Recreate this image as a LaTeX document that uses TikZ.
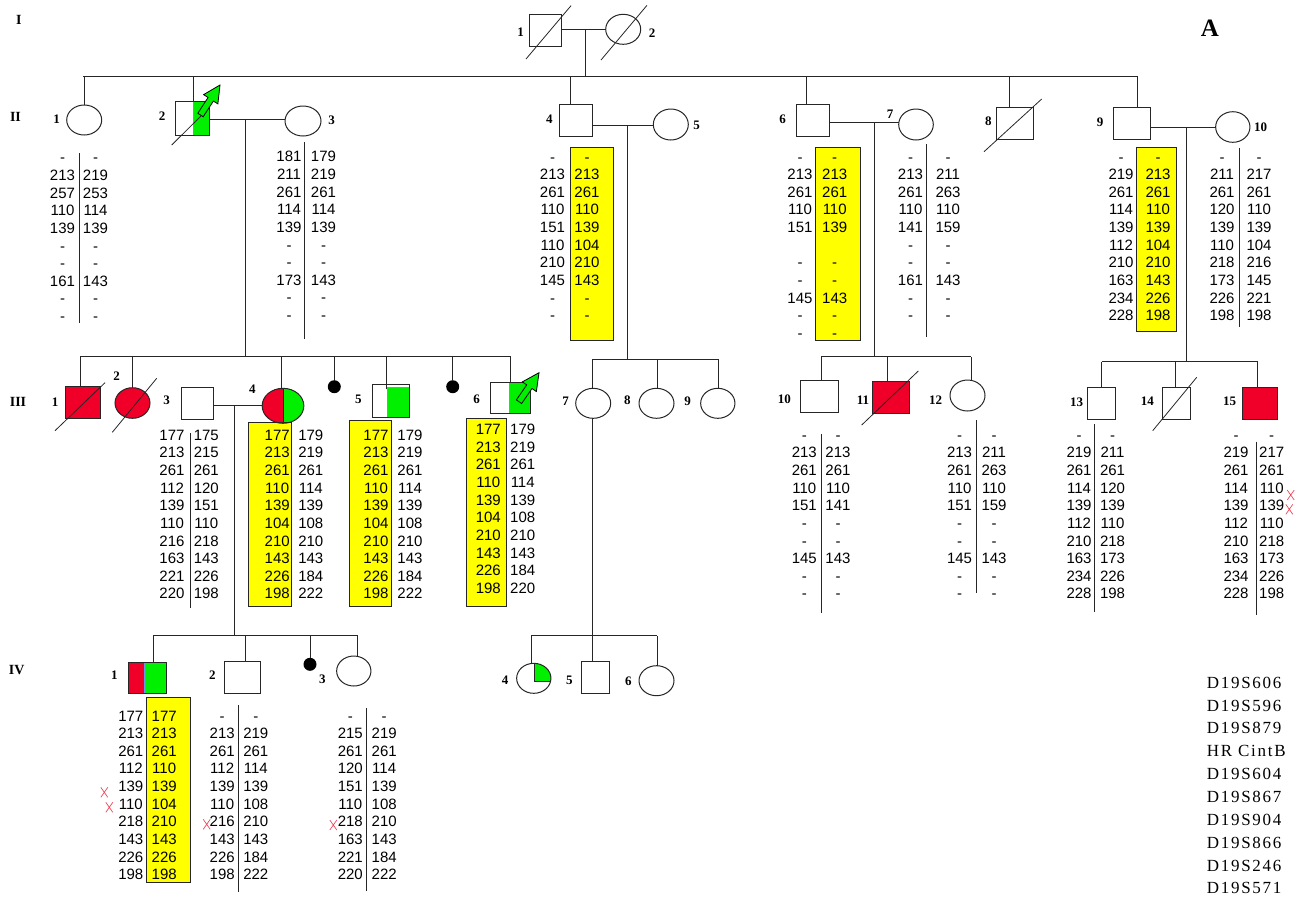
\documentclass[tikz,border=0pt]{standalone}
\usepackage{fontspec}
\setmainfont{Liberation Serif}
\newfontfamily\numfont{Liberation Sans}
\newfontfamily\markerfont[LetterSpace=10]{Liberation Serif}
\usetikzlibrary{shapes.geometric,calc}
\definecolor{pred}{RGB}{240,0,40}
\definecolor{pgreen}{RGB}{0,240,0}
\definecolor{pyellow}{RGB}{255,255,0}
\definecolor{pblue}{RGB}{110,150,230}
\definecolor{xred}{RGB}{240,70,90}
\tikzset{
  ln/.style={line width=1pt, draw=black!85},
  slash/.style={line width=0.8pt, draw=black!85},
  male/.style={rectangle, draw=black!85, line width=1pt, inner sep=0pt, outer sep=0pt},
  female/.style={ellipse, draw=black!85, line width=1pt, inner sep=0pt, outer sep=0pt},
  dotnode/.style={circle, fill=black, inner sep=0pt, minimum size=13pt},
  num/.style={font=\numfont\fontsize{15}{15}\selectfont, inner sep=0pt, text height=10.7pt, text depth=0pt},
  lab/.style={font=\fontsize{13}{13}\selectfont\bfseries, inner sep=0pt},
  gen/.style={font=\fontsize{14}{14}\selectfont\bfseries, inner sep=0pt},
  mk/.style={font=\markerfont\fontsize{17}{17}\selectfont, inner sep=0pt, anchor=west, text height=11pt, text depth=0pt},
  ybox/.style={fill=pyellow, draw=black!85, line width=0.9pt},
  gfill/.style={fill=pgreen, draw=pblue, line width=0.5pt},
}
\newcommand\hap[6]{%
  \foreach \v [count=\k from 0] in {#5} {\node[num] (#1l\k) at (#2,#4+\k*17.62) {\v};}
  \foreach \v [count=\k from 0] in {#6} {\node[num] (#1r\k) at (#3,#4+\k*17.62) {\v};}
}
\newcommand\xm[2]{\draw[xred, line width=0.7pt] (#1-3.5,#2-5) -- (#1+3.5,#2+5) (#1-3.5,#2+5) -- (#1+3.5,#2-5);}
\newcommand\garrow[2]{%
  \path ($(#2)!17pt!(#1)$) coordinate (gab);
  \filldraw[fill=pgreen, draw=black, line width=0.8pt]
    ($(#1)!3.2pt!90:(#2)$) -- ($(gab)!3.2pt!90:(#2)$) -- ($(gab)!8.5pt!90:(#2)$) -- (#2)
    -- ($(gab)!8.5pt!-90:(#2)$) -- ($(gab)!3.2pt!-90:(#2)$) -- ($(#1)!3.2pt!-90:(#2)$) -- cycle;
}
\begin{document}
\begin{tikzpicture}[x=1pt,y=-1pt]
\useasboundingbox (0,0) rectangle (1311,906);
% ---------- fills drawn first
\filldraw[gfill] (193,101) rectangle (209,135);
\begin{scope}
  \clip (283,380) rectangle (310,430);
  \fill[pgreen] (283,405.8) ellipse [x radius=20.85, y radius=17.5];
\end{scope}
\begin{scope}
  \clip (250,380) rectangle (283,430);
  \fill[pred] (283,405.8) ellipse [x radius=20.85, y radius=17.5];
\end{scope}
\filldraw[gfill] (387.3,387.7) rectangle (409,417.3);
\filldraw[gfill] (509.3,382.7) rectangle (530.7,413.3);
\fill[pred] (128.3,662.3) rectangle (144.3,693.3);
\filldraw[gfill] (144.3,662.3) rectangle (166.7,693.3);
\begin{scope}
  \clip (534,681) rectangle (560,660);
  \fill[pgreen] (533.8,678.3) ellipse [x radius=17.15, y radius=15];
\end{scope}
\draw[ln] (534,663.5) -- (534,681) -- (551,681);
% ---------- yellow boxes
\filldraw[ybox] (570.7,147.7) rectangle (613.3,340.5);
\filldraw[ybox] (815,147.7) rectangle (860,340.7);
\filldraw[ybox] (1136.7,147.7) rectangle (1176,331);
\filldraw[ybox] (248.3,422.7) rectangle (291.7,606.7);
\filldraw[ybox] (349,420) rectangle (391.7,606.7);
\filldraw[ybox] (466,418.3) rectangle (506,606.7);
\filldraw[ybox] (146.7,697.3) rectangle (190.7,882.3);
% ---------- individuals
\node[male, minimum width=32.4pt, minimum height=32.4pt] (i11) at (545.5,30.5) {};
\node[female, minimum width=35pt, minimum height=30pt] (i12) at (623.2,29.3) {};
\node[female, minimum width=35pt, minimum height=30pt] (i21) at (84.2,120) {};
\node[male, minimum width=34pt, minimum height=34pt] (i22) at (192,118) {};
\node[female, minimum width=36pt, minimum height=30pt] (i23) at (303,121) {};
\node[male, minimum width=33pt, minimum height=32.4pt] (i24) at (575.8,120.5) {};
\node[female, minimum width=35pt, minimum height=31pt] (i25) at (670.8,124.5) {};
\node[male, minimum width=33.3pt, minimum height=32.4pt] (i26) at (813.3,120.5) {};
\node[female, minimum width=34.6pt, minimum height=31pt] (i27) at (916,124.5) {};
\node[male, minimum width=37.3pt, minimum height=32.3pt] (i28) at (1014.7,123.8) {};
\node[male, minimum width=36.7pt, minimum height=32.3pt] (i29) at (1131.7,123.8) {};
\node[female, minimum width=34.3pt, minimum height=30.6pt] (i210) at (1232.8,127) {};
\node[male, fill=pred, minimum width=35.3pt, minimum height=32.3pt] (i31) at (83.3,402.2) {};
\node[female, fill=pred, minimum width=35pt, minimum height=30.6pt] (i32) at (132.5,403) {};
\node[male, minimum width=32.3pt, minimum height=32.3pt] (i33) at (197.2,403.8) {};
\node[female, minimum width=41.7pt, minimum height=35pt] (i34) at (283,405.8) {};
\draw[ln] (i34.north) -- (i34.south);
\node[dotnode] (d1) at (334.3,386.7) {};
\node[male, minimum width=36.7pt, minimum height=33pt] (i35) at (390.7,400.8) {};
\node[dotnode] (d2) at (452.7,386.7) {};
\node[male, minimum width=40pt, minimum height=30.6pt] (i36) at (510.7,398) {};
\node[female, minimum width=35pt, minimum height=30pt] (i37) at (593.2,403.3) {};
\node[female, minimum width=35pt, minimum height=30pt] (i38) at (656.5,403.3) {};
\node[female, minimum width=34.3pt, minimum height=30pt] (i39) at (717.8,403.3) {};
\node[male, minimum width=37.6pt, minimum height=32pt] (i310) at (819.5,396) {};
\node[male, fill=pred, minimum width=37.3pt, minimum height=32.3pt] (i311) at (891.3,397.2) {};
\node[female, minimum width=35pt, minimum height=31pt] (i312) at (967.5,395.5) {};
\node[male, minimum width=27.7pt, minimum height=32.3pt] (i313) at (1101.2,403.8) {};
\node[male, minimum width=28pt, minimum height=32.3pt] (i314) at (1176.7,403.8) {};
\node[male, fill=pred, minimum width=34.6pt, minimum height=32.3pt] (i315) at (1260,403.8) {};
\node[male, minimum width=38.4pt, minimum height=31pt] (i41) at (147.5,677.8) {};
\node[male, minimum width=35.7pt, minimum height=32.3pt] (i42) at (242.2,677.8) {};
\node[dotnode] (d3) at (310,664.3) {};
\node[female, minimum width=34.3pt, minimum height=30pt] (i43) at (353.8,671) {};
\node[female, minimum width=34.3pt, minimum height=30pt] (i44) at (533.8,678.3) {};
\node[male, minimum width=27.6pt, minimum height=32.3pt] (i45) at (595.5,677.8) {};
\node[female, minimum width=35pt, minimum height=30pt] (i46) at (656.5,680.7) {};
% ---------- coordinates
\coordinate (m12) at (585,29.6);
\coordinate (sII) at (83.3,76);
\coordinate (sII2) at (1137.7,76);
\coordinate (m23) at (245,119);
\coordinate (m45) at (627.3,125.7);
\coordinate (m67) at (874,122.7);
\coordinate (m910) at (1186.7,127.7);
\coordinate (sA) at (80,356.7);
\coordinate (sA2) at (511,356.7);
\coordinate (sB) at (592.3,359);
\coordinate (sB2) at (718.3,359);
\coordinate (sC) at (821,356.7);
\coordinate (sC2) at (971,356.7);
\coordinate (sD) at (1101.7,361.7);
\coordinate (sD2) at (1257.7,361.7);
\coordinate (m34) at (234.3,405);
\coordinate (sE) at (153.3,635.7);
\coordinate (sE2) at (357.7,635.7);
\coordinate (sF) at (531,635.7);
\coordinate (sF2) at (657.3,635.7);
% ---------- connectors
\draw[ln] (i11.east |- m12) -- (i12.west |- m12);
\draw[ln] (m12) -- (m12 |- sII);
\draw[ln] (sII) -- (sII2);
\draw[ln] (i21.north) -- (i21.north |- sII);
\draw[ln] ([xshift=1.3pt]i22.north) -- ([xshift=1.3pt]i22.north |- sII);
\draw[ln] ([xshift=-5.1pt]i24.north) -- ([xshift=-5.1pt]i24.north |- sII);
\draw[ln] ([xshift=-6.6pt]i26.north) -- ([xshift=-6.6pt]i26.north |- sII);
\draw[ln] ([xshift=-5.4pt]i28.north) -- ([xshift=-5.4pt]i28.north |- sII);
\draw[ln] ([xshift=6pt]i29.north) -- ([xshift=6pt]i29.north |- sII);
\draw[ln] (i22.east |- m23) -- (i23.west |- m23);
\draw[ln] (m23) -- (m23 |- sA);
\draw[ln] (i24.east |- m45) -- (i25.west |- m45);
\draw[ln] (m45) -- (m45 |- sB);
\draw[ln] (i26.east |- m67) -- (i27.west |- m67);
\draw[ln] (m67) -- (m67 |- sC);
\draw[ln] (i29.east |- m910) -- (i210.west |- m910);
\draw[ln] (m910) -- (m910 |- sD);
% III
\draw[ln] (sA) -- (sA2);
\draw[ln] ([xshift=-3.3pt]i31.north) -- ([xshift=-3.3pt]i31.north |- sA);
\draw[ln] (i32.north) -- (i32.north |- sA);
\draw[ln] ([xshift=-1.3pt]i34.north) -- ([xshift=-1.3pt]i34.north |- sA);
\draw[ln] (d1.north) -- (d1.north |- sA);
\draw[ln] ([xshift=-4pt,yshift=-5pt]i35.north) -- ([xshift=-4pt]i35.north |- sA);
\draw[ln] (d2.north) -- (d2.north |- sA);
\draw[ln] (i36.north) -- (i36.north |- sA);
\draw[ln] (i33.east |- m34) -- (i34.west |- m34);
\draw[ln] (m34) -- (m34 |- sE);
\draw[ln] (sB) -- (sB2);
\draw[ln] ([xshift=-0.9pt]i37.north) -- ([xshift=-0.9pt]i37.north |- sB);
\draw[ln] ([xshift=0.8pt]i38.north) -- ([xshift=0.8pt]i38.north |- sB);
\draw[ln] ([xshift=0.5pt]i39.north) -- ([xshift=0.5pt]i39.north |- sB);
\draw[ln] ([xshift=-0.9pt]i37.south) -- ([xshift=-0.9pt]i37.south |- sF);
\draw[ln] (sC) -- (sC2);
\draw[ln] ([xshift=1.5pt]i310.north) -- ([xshift=1.5pt]i310.north |- sC);
\draw[ln] ([xshift=-4pt]i311.north) -- ([xshift=-4pt]i311.north |- sC);
\draw[ln] ([xshift=3.5pt]i312.north) -- ([xshift=3.5pt]i312.north |- sC);
\draw[ln] (sD) -- (sD2);
\draw[ln] ([xshift=0.5pt]i313.north) -- ([xshift=0.5pt]i313.north |- sD);
\draw[ln] ([xshift=-1.7pt]i314.north) -- ([xshift=-1.7pt]i314.north |- sD);
\draw[ln] ([xshift=-2.3pt]i315.north) -- ([xshift=-2.3pt]i315.north |- sD);
% IV
\draw[ln] (sE) -- (sE2);
\draw[ln] ([xshift=5.8pt]i41.north) -- ([xshift=5.8pt]i41.north |- sE);
\draw[ln] ([xshift=2.8pt]i42.north) -- ([xshift=2.8pt]i42.north |- sE);
\draw[ln] (d3.north) -- (d3.north |- sE);
\draw[ln] ([xshift=3.9pt]i43.north) -- ([xshift=3.9pt]i43.north |- sE);
\draw[ln] (sF) -- (sF2);
\draw[ln] ([xshift=-2.8pt]i44.north) -- ([xshift=-2.8pt]i44.north |- sF);
\draw[ln] ([xshift=-3.2pt]i45.north) -- ([xshift=-3.2pt]i45.north |- sF);
\draw[ln] ([xshift=0.8pt]i46.north) -- ([xshift=0.8pt]i46.north |- sF);
% ---------- deceased slashes
\draw[slash] (526,59) -- (571,5.7);
\draw[slash] (601,60) -- (647,5.3);
\draw[slash] (171.7,145) -- (201,116);
\draw[slash] (984,151.7) -- (1041.7,99);
\draw[slash] (55,430.7) -- (105,382.7);
\draw[slash] (112.3,432.3) -- (156.7,378.3);
\draw[slash] (861.7,425) -- (918.3,371);
\draw[slash] (1152.7,430.7) -- (1196.7,377.3);
% ---------- proband arrows
\coordinate (a2t) at (200.5,115);
\coordinate (a2h) at (220,85);
\garrow{a2t}{a2h}
\coordinate (a6t) at (519,401.7);
\coordinate (a6h) at (539,372.7);
\garrow{a6t}{a6h}
% ---------- labels
\node[gen] (gI) at (18.8,19.5) {I};
\node[gen] (gII) at (15.5,117) {II};
\node[gen] (gIII) at (18,402) {III};
\node[gen] (gIV) at (16.7,670) {IV};
\node[font=\fontsize{25}{25}\selectfont\bfseries, inner sep=0pt] (lA) at (1210,28) {A};
\node[lab] at (520.7,32) {1};
\node[lab] at (652,33) {2};
\node[lab] at (56.7,119) {1};
\node[lab] at (162,116) {2};
\node[lab] at (331.7,120) {3};
\node[lab] at (549.3,119) {4};
\node[lab] at (696.7,125) {5};
\node[lab] at (782.7,119) {6};
\node[lab] at (890,114) {7};
\node[lab] at (988.3,121) {8};
\node[lab] at (1100,122) {9};
\node[lab] at (1260.7,127.7) {10};
\node[lab] at (55,401.7) {1};
\node[lab] at (116.7,376) {2};
\node[lab] at (166.7,400) {3};
\node[lab] at (252.3,389.3) {4};
\node[lab] at (358.3,399.3) {5};
\node[lab] at (476.7,399) {6};
\node[lab] at (565.7,401.7) {7};
\node[lab] at (627.3,400) {8};
\node[lab] at (687.7,401) {9};
\node[lab] at (784.3,399.3) {10};
\node[lab] at (863,400) {11};
\node[lab] at (935.5,400) {12};
\node[lab] at (1076.7,402.7) {13};
\node[lab] at (1147.3,401) {14};
\node[lab] at (1229.7,401) {15};
\node[lab] at (114.3,675) {1};
\node[lab] at (212.3,675) {2};
\node[lab] at (322.3,679.3) {3};
\node[lab] at (505,680) {4};
\node[lab] at (569.3,680) {5};
\node[lab] at (628.3,681.7) {6};
% ---------- haplotype dividers
\draw[ln] (79,153) -- (79,323);
\draw[ln] (304.7,142) -- (304.7,339);
\draw[ln] (926.7,144) -- (926.7,336.7);
\draw[ln] (1239.3,147.7) -- (1239.3,326.7);
\draw[ln] (190,433.3) -- (190,608.3);
\draw[ln] (821,434.3) -- (821,613.3);
\draw[ln] (976,420) -- (976,593.3);
\draw[ln] (1094.3,424.3) -- (1094.3,611.7);
\draw[ln] (1256.7,441.7) -- (1256.7,615);
\draw[ln] (238.3,705) -- (238.3,891.7);
\draw[ln] (366.7,708.3) -- (366.7,890.7);
% ---------- haplotypes
\hap{h21}{62.5}{95.5}{157.6}{-,213,257,110,139,-,-,161,-,-}{-,219,253,114,139,-,-,143,-,-}
\hap{h23}{289}{323.5}{156.6}{181,211,261,114,139,-,-,173,-,-}{179,219,261,114,139,-,-,143,-,-}
\hap{h24}{552.5}{587}{156.7}{-,213,261,110,151,110,210,145,-,-}{-,213,261,110,139,104,210,143,-,-}
\hap{h26}{800}{834.7}{156.7}{-,213,261,110,151,{},-,-,145,-,-}{-,213,261,110,139,{},-,-,143,-,-}
\hap{h27}{910.5}{948}{156.7}{-,213,261,110,141,-,-,161,-,-}{-,211,263,110,159,-,-,143,-,-}
\hap{h29}{1121}{1158}{156.7}{-,219,261,114,139,112,210,163,234,228}{-,213,261,110,139,104,210,143,226,198}
\hap{h210}{1222}{1259}{156.7}{-,211,261,120,139,110,218,173,226,198}{-,217,261,110,139,104,216,145,221,198}
\hap{h33}{172}{206.3}{435}{177,213,261,112,139,110,216,163,221,220}{175,215,261,120,151,110,218,143,226,198}
\hap{h34}{277.2}{310.8}{435}{177,213,261,110,139,104,210,143,226,198}{179,219,261,114,139,108,210,143,184,222}
\hap{h35}{376}{410}{435}{177,213,261,110,139,104,210,143,226,198}{179,219,261,114,139,108,210,143,184,222}
\hap{h36}{488.3}{522.7}{429.3}{177,213,261,110,139,104,210,143,226,198}{179,219,261,114,139,108,210,143,184,220}
\hap{h310}{804.3}{838}{435}{-,213,261,110,151,-,-,145,-,-}{-,213,261,110,141,-,-,143,-,-}
\hap{h312}{959.5}{994}{435}{-,213,261,110,151,-,-,145,-,-}{-,211,263,110,159,-,-,143,-,-}
\hap{h313}{1079}{1112.5}{435}{-,219,261,114,139,112,210,163,234,228}{-,211,261,120,139,110,218,173,226,198}
\hap{h315}{1236}{1271.7}{435}{-,219,261,114,139,112,210,163,234,228}{-,217,261,110,139,110,218,173,226,198}
\hap{h41}{130.8}{164.2}{715.7}{177,213,261,112,139,110,218,143,226,198}{177,213,261,110,139,104,210,143,226,198}
\hap{h42}{222.2}{255.8}{715.7}{-,213,261,112,139,110,216,143,226,198}{-,219,261,114,139,108,210,143,184,222}
\hap{h43}{350.3}{384.2}{715.7}{-,215,261,120,151,110,218,163,221,220}{-,219,261,114,139,108,210,143,184,222}
% ---------- recombination marks
\xm{1290.7}{495}
\xm{1289.3}{509.3}
\xm{104.3}{792.3}
\xm{109.3}{807.3}
\xm{206.7}{824.3}
\xm{333.3}{825}
% ---------- marker names
\foreach \m [count=\k from 0] in {D19S606,D19S596,D19S879,HR CintB,D19S604,D19S867,D19S904,D19S866,D19S246,D19S571}
  {\node[mk] (mk\k) at (1206.7,682.7+\k*22.85) {\m};}
\end{tikzpicture}
\end{document}
